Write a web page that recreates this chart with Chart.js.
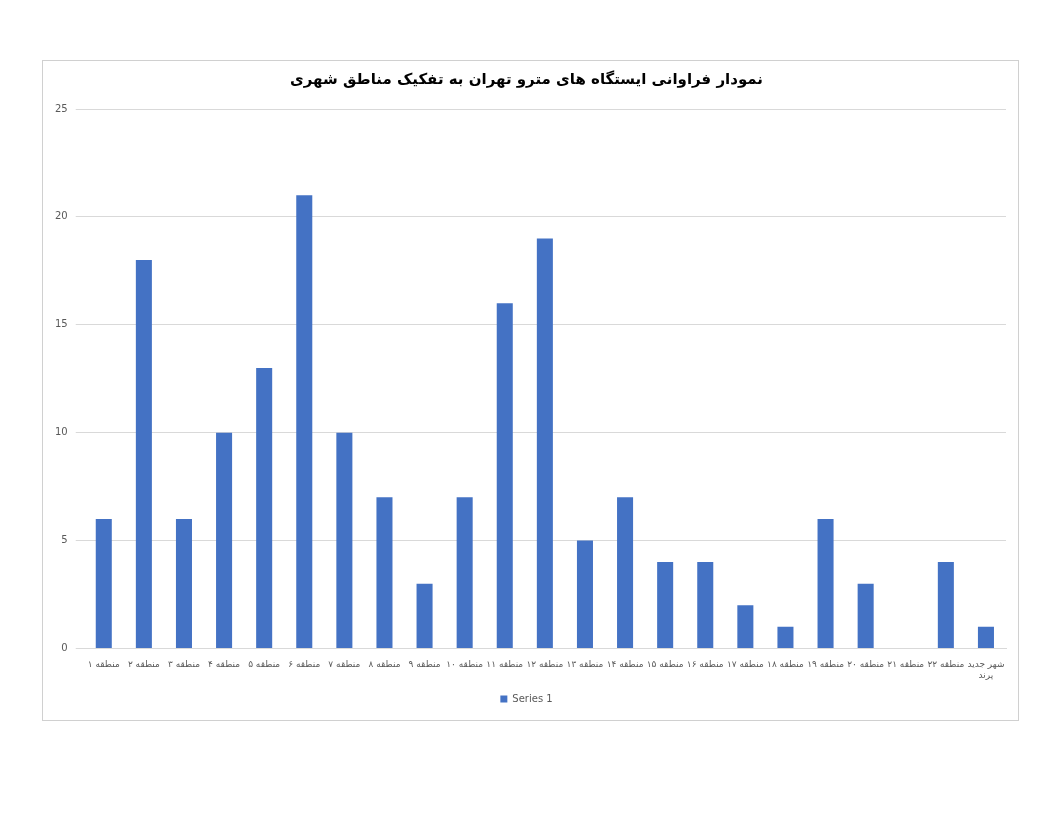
<!DOCTYPE html>
<html><head><meta charset="utf-8">
<script src="https://cdn.jsdelivr.net/npm/chart.js@4"></script>
<style>
body{margin:0;background:#fff;}
#box{position:absolute;left:42px;top:60px;width:977px;height:661px;border:1px solid #d0d0d0;box-sizing:border-box;}
</style></head><body>
<div id="box"><canvas id="c"></canvas></div>
<script>
const categories=["منطقه ۱","منطقه ۲","منطقه ۳","منطقه ۴","منطقه ۵","منطقه ۶","منطقه ۷","منطقه ۸","منطقه ۹","منطقه ۱۰","منطقه ۱۱","منطقه ۱۲","منطقه ۱۳","منطقه ۱۴","منطقه ۱۵","منطقه ۱۶","منطقه ۱۷","منطقه ۱۸","منطقه ۱۹","منطقه ۲۰","منطقه ۲۱","منطقه ۲۲",["شهر جدید","پرند"]];
const series1=[6,18,6,10,13,21,10,7,3,7,16,19,5,7,4,4,2,1,6,3,0,4,1];
const titleText="نمودار فراوانی ایستگاه های مترو تهران به تفکیک مناطق شهری";
const c=document.getElementById('c');
c.width=975;c.height=659;c.style.width='975px';c.style.height='659px';
new Chart(c,{type:'bar',data:{labels:categories,datasets:[{label:'Series 1',data:series1,backgroundColor:'#4472c4',categoryPercentage:1,barPercentage:0.4}]},
options:{responsive:false,animation:false,devicePixelRatio:1,
layout:{padding:{left:4,right:12,top:6,bottom:6}},
plugins:{title:{display:true,text:titleText,color:'#000',font:{family:'DejaVu Sans',size:15,weight:'bold'},padding:{top:4,bottom:20}},
legend:{position:'bottom',labels:{boxWidth:7,boxHeight:7,font:{family:'DejaVu Sans',size:10},color:'#595959'}}},
scales:{x:{grid:{display:false},border:{color:'#d9d9d9'},ticks:{maxRotation:0,autoSkip:false,color:'#595959',font:{family:'DejaVu Sans',size:9}}},
y:{min:0,max:25,ticks:{stepSize:5,color:'#595959',font:{family:'DejaVu Sans',size:10},padding:8},grid:{color:'#d9d9d9'},border:{display:false}}}}});
</script></body></html>
